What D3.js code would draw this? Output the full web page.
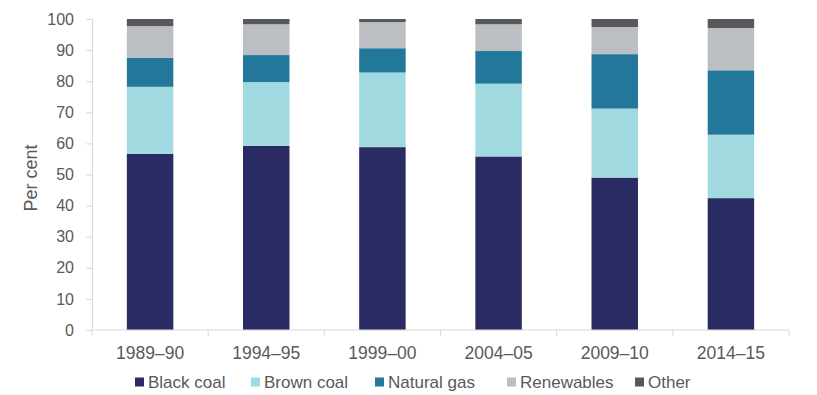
<!DOCTYPE html>
<html>
<head>
<meta charset="utf-8">
<script src="https://cdn.jsdelivr.net/npm/d3@7"></script>
<style>
  body { margin: 0; background: #fff; }
  svg { font-family: 'Liberation Sans', Arial, sans-serif; }
</style>
</head>
<body>
<div id="chart"></div>
<script>
const years = ['1989–90', '1994–95', '1999–00', '2004–05', '2009–10', '2014–15']
const fuels = ['Black coal', 'Brown coal', 'Natural gas', 'Renewables', 'Other']
const blackCoal = [56.6, 59.2, 58.8, 55.8, 49.0, 42.4]
const brownCoal = [21.6, 20.5, 24.0, 23.4, 22.2, 20.4]
const naturalGas = [9.3, 8.7, 7.8, 10.5, 17.5, 20.7]
const renewables = [10.2, 9.9, 8.4, 8.6, 8.7, 13.6]
const other = [2.3, 1.7, 1.0, 1.7, 2.6, 2.9]
const yTicks = [0, 10, 20, 30, 40, 50, 60, 70, 80, 90, 100]

const colors = ['#2a2b62', '#a0d9e0', '#22779a', '#bbbec2', '#58595b']

const width = 817
const height = 395
const margin = { top: 19, right: 28, bottom: 65, left: 92 }

const rows = years.map((y, i) => ({
  year: y,
  'Black coal': blackCoal[i],
  'Brown coal': brownCoal[i],
  'Natural gas': naturalGas[i],
  Renewables: renewables[i],
  Other: other[i]
}))

const svg = d3.select('#chart')
  .append('svg')
  .attr('width', width)
  .attr('height', height)

const x = d3.scaleBand()
  .domain(years)
  .range([margin.left, width - margin.right])
  .paddingInner(0.6)
  .paddingOuter(0.3)

const y = d3.scaleLinear()
  .domain([0, 100])
  .range([height - margin.bottom, margin.top])

const stack = d3.stack().keys(fuels)(rows)

// bars
svg.append('g')
  .selectAll('g')
  .data(stack)
  .enter()
  .append('g')
  .attr('fill', (d, i) => colors[i])
  .selectAll('rect')
  .data(d => d)
  .enter()
  .append('rect')
  .attr('x', d => x(d.data.year))
  .attr('y', d => y(d[1]))
  .attr('width', x.bandwidth())
  .attr('height', d => y(d[0]) - y(d[1]))

// y axis
const yAxis = svg.append('g')
  .attr('transform', `translate(${margin.left},0)`)
  .call(d3.axisLeft(y).tickValues(yTicks).tickSize(6).tickPadding(12))
yAxis.selectAll('line, path').attr('stroke', '#d9d9d9')
yAxis.selectAll('text').attr('fill', '#595959').style('font-size', '16px')

// x axis with ticks between categories
const xAxis = svg.append('g')
  .attr('transform', `translate(0,${height - margin.bottom})`)
xAxis.append('line')
  .attr('x1', margin.left).attr('x2', width - margin.right)
  .attr('stroke', '#d9d9d9')
const bounds = d3.range(years.length + 1).map(i => margin.left + i * (width - margin.right - margin.left) / years.length)
xAxis.selectAll('.tk')
  .data(bounds)
  .enter()
  .append('line')
  .attr('x1', d => d).attr('x2', d => d)
  .attr('y1', 0).attr('y2', 6)
  .attr('stroke', '#d9d9d9')
xAxis.selectAll('.lbl')
  .data(years)
  .enter()
  .append('text')
  .attr('x', d => x(d) + x.bandwidth() / 2)
  .attr('y', 29)
  .attr('text-anchor', 'middle')
  .attr('fill', '#595959')
  .style('font-size', '17.5px')
  .text(d => d)

// y label
svg.append('text')
  .attr('transform', 'translate(37,178) rotate(-90)')
  .attr('text-anchor', 'middle')
  .attr('fill', '#595959')
  .style('font-size', '18px')
  .text('Per cent')

// legend
const legendX = [135, 251, 375, 507, 635]
const legend = svg.append('g')
  .attr('transform', 'translate(0,382)')
const item = legend.selectAll('g')
  .data(fuels)
  .enter()
  .append('g')
  .attr('transform', (d, i) => `translate(${legendX[i]},0)`)
item.append('rect')
  .attr('x', 0).attr('y', -4.5)
  .attr('width', 9).attr('height', 9)
  .attr('fill', (d, i) => colors[i])
item.append('text')
  .attr('x', 13)
  .attr('y', 6)
  .attr('fill', '#595959')
  .style('font-size', '17px')
  .text(d => d)
</script>
</body>
</html>
